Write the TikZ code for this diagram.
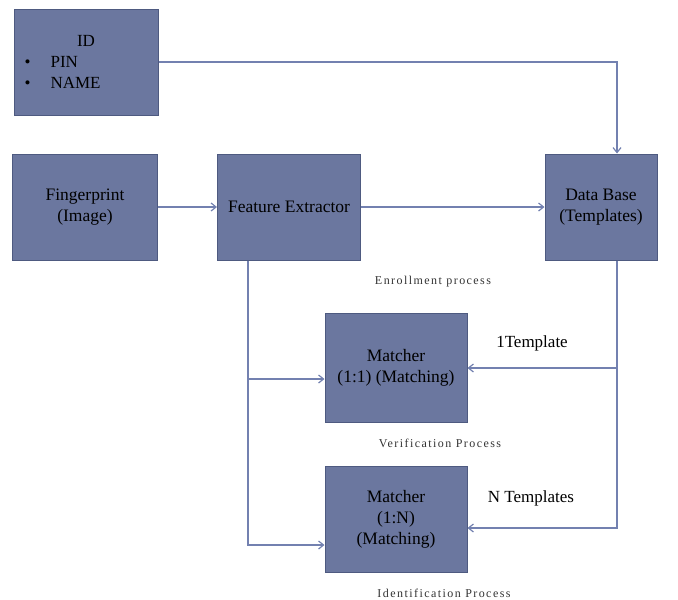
\documentclass[tikz,border=0pt]{standalone}
\usepackage{fontspec}
\setmainfont{Liberation Serif}
\usetikzlibrary{arrows.meta}
\definecolor{boxfill}{HTML}{6B779F}
\definecolor{boxline}{HTML}{4E5A80}
\definecolor{wire}{HTML}{7381B0}

\begin{document}
\begin{tikzpicture}[x=1pt,y=-1pt,>={Straight Barb[length=5pt,width=8pt]},
    semithick]
\tikzstyle{block}=[draw=boxline,fill=boxfill,line width=1pt,align=center,
    font=\fontsize{17.5}{21}\selectfont,inner sep=2pt]
\tikzstyle{link}=[draw=wire,line width=1.2pt,->]
\tikzstyle{note}=[font=\fontsize{12}{14}\selectfont\addfontfeature{LetterSpace=12},text=black!80]
\tikzstyle{tag}=[font=\fontsize{17}{20}\selectfont]
\useasboundingbox (0,0) rectangle (678,600);

\node[block,minimum width=144pt,minimum height=106pt]
    (ID) at (86,62) {};
\node[tag] (idtitle) at (86,41) {ID};
\node[tag,anchor=west] (idpin) at (21,62) {\textbullet\hspace{20pt}PIN};
\node[tag,anchor=west] (idname) at (21,83) {\textbullet\hspace{20pt}NAME};

\node[block,minimum width=145pt,minimum height=106pt]
    (FP) at (85,207) {Fingerprint\\(Image)};
\node[block,minimum width=143pt,minimum height=106pt]
    (FE) at (289,207) {Feature Extractor};
\node[block,minimum width=112pt,minimum height=106pt]
    (DB) at (601,207) {Data Base\\(Templates)};
\node[block,minimum width=142pt,minimum height=109pt]
    (M1) at (396,368) {Matcher\\(1:1) (Matching)};
\node[block,minimum width=142pt,minimum height=106pt]
    (M2) at (396,519) {Matcher\\(1:N)\\(Matching)};

\node[note] (enroll) at (433,282) {Enrollment process};
\node[note] (verify) at (440,443) {Verification Process};
\node[note] (ident) at (444,593) {Identification Process};
\node[tag] (one) at (532,343) {1Template};
\node[tag] (many) at (531,498) {N Templates};

\coordinate (fx) at ([xshift=-41pt]FE.south);
\coordinate (dbx) at ([xshift=16pt]DB.south);
\coordinate (m1in) at ([yshift=-11pt]M1.west);
\coordinate (m2in) at ([yshift=-26pt]M2.west);
\coordinate (m2db) at ([yshift=-9pt]M2.east);

\path[link] (ID.east) -| ([xshift=16pt]DB.north);
\path[link] (FP) -- (FE);
\path[link] (FE) -- (DB);
\path[link] (fx) |- (m2in);
\path[link] (m1in -| fx) -- (m1in);
\path[link] (dbx) |- (m2db);
\path[link] (dbx |- M1.east) -- (M1.east);
\end{tikzpicture}
\end{document}
